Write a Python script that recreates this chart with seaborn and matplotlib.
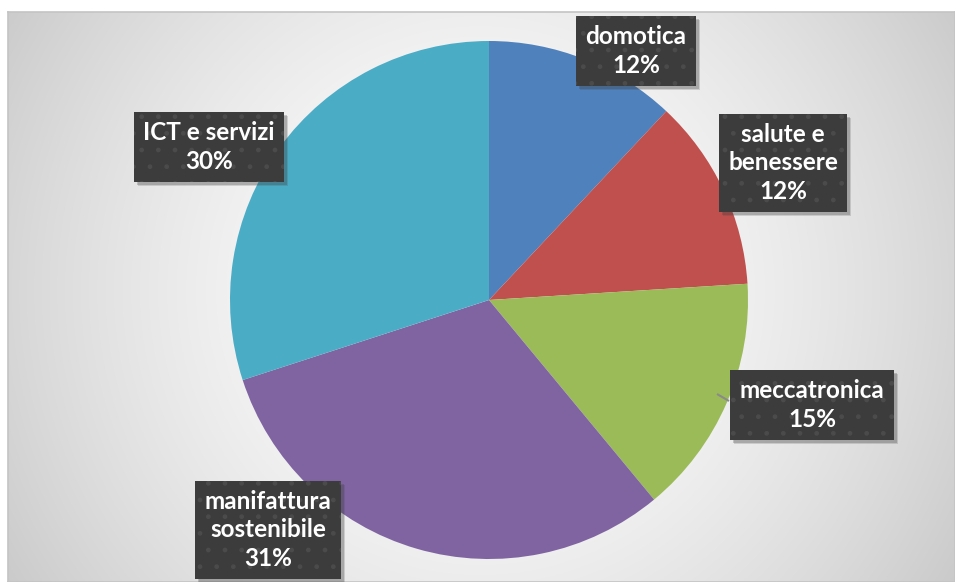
import numpy as np
import matplotlib
matplotlib.use("Agg")
import matplotlib.pyplot as plt
import matplotlib.transforms as mtransforms
from matplotlib.patches import Rectangle
import seaborn as sns

# Settori e quote
categories = ["domotica", "salute e\nbenessere", "meccatronica",
              "manifattura\nsostenibile", "ICT e servizi"]
shares = [12, 12, 15, 31, 30]
colors = ["#4F81BD", "#C0504D", "#9BBB59", "#8064A2", "#4BACC6"]

# Label box centres, in units of the pie radius
label_pos = [(0.568, 0.961), (1.135, 0.529), (1.247, -0.405),
             (-0.853, -0.888), (-1.081, 0.591)]

sns.set_theme(style="white")
plt.rcParams["font.family"] = ["Lato", "DejaVu Sans"]
plt.rcParams["hatch.linewidth"] = 1.0

W, H, DPI = 955, 582, 100
fig = plt.figure(figsize=(W / DPI, H / DPI), dpi=DPI, facecolor="white")

# Chart area with a soft radial gradient
x0, y0 = 8, 12  # top-left corner of the chart area in pixels
bg = fig.add_axes([x0 / W, 0, 1 - x0 / W, 1 - y0 / H])
gw, gh = W - x0, H - y0
yy, xx = np.mgrid[0:gh, 0:gw]
cx, cy = 480 - x0, 290 - y0
d = np.hypot(xx - cx, yy - cy) / 552.0
g = np.clip(255 - 52 * d ** 1.6, 0, 255) / 255.0
bg.imshow(np.dstack([g, g, g]), aspect="auto", interpolation="bilinear")
bg.set_xticks([])
bg.set_yticks([])
for s in bg.spines.values():
    s.set_color("#c4c4c4")
    s.set_linewidth(1.2)

# Pie axes covering the whole figure, one unit = pie radius
R, pcx, pcy = 259.0, 489.0, 300.0
ax = fig.add_axes([0, 0, 1, 1])
ax.patch.set_alpha(0)
ax.pie(shares, colors=colors, startangle=90, counterclock=False,
       radius=1.0, wedgeprops=dict(linewidth=0))
ax.set_aspect("auto")
ax.set_xlim(-pcx / R, (W - pcx) / R)
ax.set_ylim((pcy - H) / R, pcy / R)
ax.axis("off")

# Callout pointer for meccatronica
ax.plot([(717 - pcx) / R, (729 - pcx) / R], [(pcy - 394) / R, (pcy - 401) / R],
        color="#8a8a8a", lw=1.5, solid_capstyle="butt", zorder=4)

labels = []
for name, val, (lx, ly) in zip(categories, shares, label_pos):
    t = ax.text(lx, ly, f"{name}\n{val}%", ha="center", va="center",
                fontsize=17.5, fontweight="bold", linespacing=1.3,
                color="white", zorder=6,
                bbox=dict(boxstyle="square,pad=0.38", facecolor="#3c3c3c",
                          edgecolor="#4b4b4b", linewidth=0, hatch="."))
    labels.append(t)

# Drop shadows behind the label boxes, offset a few pixels down-right
fig.canvas.draw()
renderer = fig.canvas.get_renderer()
pixels = mtransforms.IdentityTransform()
for t in labels:
    ext = t.get_bbox_patch().get_window_extent(renderer)
    for k, a in ((4, 0.18), (3, 0.25)):
        ax.add_patch(Rectangle((ext.x0 + k, ext.y0 - k), ext.width, ext.height,
                               transform=pixels, facecolor="#404040", alpha=a,
                               linewidth=0, zorder=5, clip_on=False))

fig.savefig("out.png", dpi=DPI, facecolor="white")
